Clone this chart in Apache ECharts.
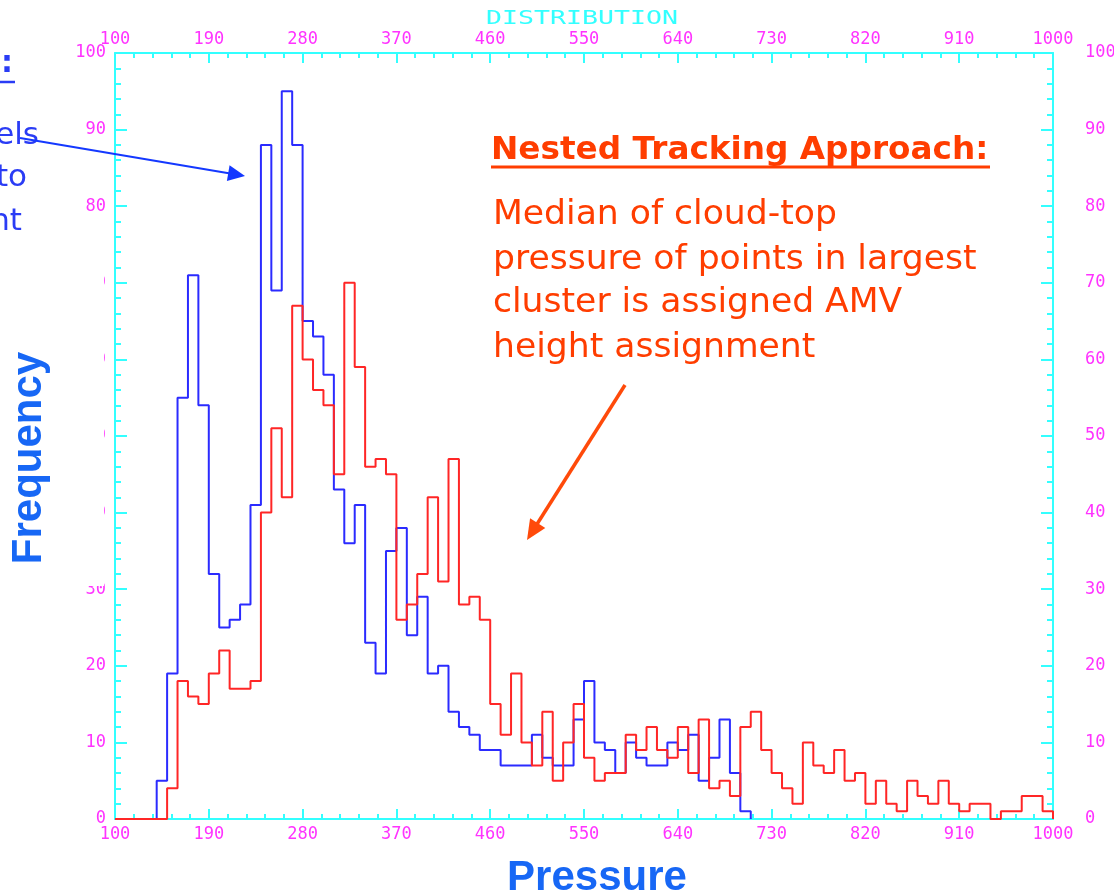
<!DOCTYPE html>
<html>
<head>
<meta charset="utf-8">
<script src="https://cdn.jsdelivr.net/npm/echarts@6/dist/echarts.min.js"></script>
<style>
html,body{margin:0;padding:0;background:#fff;}
#chart{width:1114px;height:895px;}
</style>
</head>
<body>
<div id="chart"></div>
<script>
// ---- data (histogram, 10-unit pressure bins starting at 100) ----
const binStart = 100;
const binWidth = 10;
const xTickLabels = [100, 190, 280, 370, 460, 550, 640, 730, 820, 910, 1000];
const yTickLabels = [0, 10, 20, 30, 40, 50, 60, 70, 80, 90, 100];

// blue histogram (one value per bin: 100-110, 110-120, ...)
const blueCounts = [
  0, 0, 0, 0, 5, 19, 55, 71, 54, 32,
  25, 26, 28, 41, 88, 69, 95, 88, 65, 63,
  58, 43, 36, 41, 23, 19, 35, 38, 24, 29,
  19, 20, 14, 12, 11, 9, 9, 7, 7, 7,
  11, 8, 7, 7, 13, 18, 10, 9, 6, 10,
  8, 7, 7, 10, 9, 11, 5, 8, 13, 6,
  1, 0, 0, 0, 0, 0, 0, 0, 0, 0,
  0, 0, 0, 0, 0, 0, 0, 0, 0, 0,
  0, 0, 0, 0, 0, 0, 0, 0, 0, 0
];
// red histogram
const redCounts = [
  0, 0, 0, 0, 0, 4, 18, 16, 15, 19,
  22, 17, 17, 18, 40, 51, 42, 67, 60, 56,
  54, 45, 70, 59, 46, 47, 45, 26, 28, 32,
  42, 31, 47, 28, 29, 26, 15, 11, 19, 10,
  7, 14, 5, 10, 15, 8, 5, 6, 6, 11,
  9, 12, 9, 8, 12, 6, 13, 4, 5, 3,
  12, 14, 9, 6, 4, 2, 10, 7, 6, 9,
  5, 6, 2, 5, 2, 1, 5, 3, 2, 5,
  2, 1, 2, 2, 0, 1, 1, 3, 3, 1
];

function toSteps(vals) {
  let last = vals.length - 1;
  while (last >= 0 && vals[last] === 0) last--;
  const pts = [];
  for (let k = 0; k <= last; k++) pts.push([binStart + k * binWidth, vals[k]]);
  pts.push([binStart + (last + 1) * binWidth, 0]);
  return pts;
}

const CYAN = '#3ff';
const MAG = '#f3f';
const labelFont = { color: MAG, fontFamily: 'DejaVu Sans Mono', fontSize: 17,
  formatter: function (v) { return String(v); } };

function xAxisCfg(pos, margin) {
  return {
    type: 'value', position: pos,
    min: xTickLabels[0], max: xTickLabels[xTickLabels.length - 1],
    interval: xTickLabels[1] - xTickLabels[0],
    axisLine: { show: true, onZero: false, lineStyle: { color: CYAN, width: 2 } },
    axisTick: { show: true, inside: true, length: 10, lineStyle: { color: CYAN, width: 2 } },
    minorTick: { show: true, splitNumber: 5, length: 5, lineStyle: { color: CYAN, width: 2 } },
    splitLine: { show: false },
    axisLabel: Object.assign({ margin: margin, showMinLabel: true, showMaxLabel: true, hideOverlap: false }, labelFont)
  };
}
function yAxisCfg(pos, margin, align) {
  return {
    type: 'value', position: pos,
    min: yTickLabels[0], max: yTickLabels[yTickLabels.length - 1],
    interval: yTickLabels[1] - yTickLabels[0],
    axisLine: { show: true, onZero: false, lineStyle: { color: CYAN, width: 2 } },
    axisTick: { show: true, inside: true, length: 12, lineStyle: { color: CYAN, width: 2 } },
    minorTick: { show: true, splitNumber: 5, length: 6, lineStyle: { color: CYAN, width: 2 } },
    splitLine: { show: false },
    axisLabel: Object.assign({ margin: margin, align: align, showMinLabel: true, showMaxLabel: true }, labelFont)
  };
}

function arrow(x1, y1, x2, y2, color, w, headLen, headHalf) {
  const dx = x2 - x1, dy = y2 - y1, L = Math.sqrt(dx * dx + dy * dy);
  const ux = dx / L, uy = dy / L, nx = -uy, ny = ux;
  const bx = x2 - ux * headLen, by = y2 - uy * headLen;
  return [
    { type: 'line', z: 120, shape: { x1: x1, y1: y1, x2: bx + ux * 2, y2: by + uy * 2 },
      style: { stroke: color, lineWidth: w } },
    { type: 'polygon', z: 120,
      shape: { points: [[x2, y2], [bx + nx * headHalf, by + ny * headHalf], [bx - nx * headHalf, by - ny * headHalf]] },
      style: { fill: color } }
  ];
}

const ORANGE = '#ff3d00';
const BLUE_TXT = '#2a3cf5';
const BLUE_LBL = '#1767f5';

const chart = echarts.init(document.getElementById('chart'), null, { renderer: 'canvas' });
chart.setOption({
  animation: false,
  backgroundColor: '#fff',
  grid: { left: 115, right: 61, top: 53, bottom: 76, containLabel: false, outerBoundsMode: 'none' },
  xAxis: [xAxisCfg('bottom', 7), xAxisCfg('top', 5)],
  yAxis: [yAxisCfg('left', 9, 'right'), yAxisCfg('right', 32, 'left')],
  series: [
    { type: 'line', step: 'end', xAxisIndex: 0, yAxisIndex: 0, showSymbol: false, z: 3,
      data: toSteps(blueCounts), lineStyle: { color: '#2b2bff', width: 2 } },
    { type: 'line', step: 'end', xAxisIndex: 0, yAxisIndex: 0, showSymbol: false, z: 4,
      data: toSteps(redCounts), lineStyle: { color: '#ff2626', width: 2 } }
  ],
  graphic: [
    { type: 'text', z: 100, x: 582, y: 19, scaleX: 1.4,
      style: { text: 'DISTRIBUTION', fill: CYAN, font: '19px "DejaVu Sans Mono"', align: 'center', verticalAlign: 'middle' } },
    { type: 'rect', z: 100, shape: { x: 0, y: 216, width: 104, height: 370 }, style: { fill: '#fff' } },
    { type: 'text', z: 110, x: 29, y: 458, rotation: Math.PI / 2,
      style: { text: 'Frequency', fill: BLUE_LBL, font: 'bold 42px "Liberation Sans"', align: 'center', verticalAlign: 'middle' } },
    { type: 'text', z: 110, x: 597, y: 878,
      style: { text: 'Pressure', fill: BLUE_LBL, font: 'bold 42px "Liberation Sans"', align: 'center', verticalAlign: 'middle' } },
    // left annotation fragments (cut off by the page edge)
    { type: 'text', z: 110, x: 13, y: 64,
      style: { text: ':', fill: BLUE_TXT, font: 'bold 30px "DejaVu Sans"', align: 'right', verticalAlign: 'middle' } },
    { type: 'line', z: 110, shape: { x1: 0, y1: 82, x2: 15, y2: 82 }, style: { stroke: BLUE_TXT, lineWidth: 2.5 } },
    { type: 'text', z: 110, x: 39, y: 136,
      style: { text: 'els', fill: BLUE_TXT, font: '31px "DejaVu Sans"', align: 'right', verticalAlign: 'middle' } },
    { type: 'text', z: 110, x: 27, y: 178,
      style: { text: 'to', fill: BLUE_TXT, font: '31px "DejaVu Sans"', align: 'right', verticalAlign: 'middle' } },
    { type: 'text', z: 110, x: 22, y: 222,
      style: { text: 'nt', fill: BLUE_TXT, font: '31px "DejaVu Sans"', align: 'right', verticalAlign: 'middle' } },
    // right annotation
    { type: 'text', z: 110, x: 491, y: 151,
      style: { text: 'Nested Tracking Approach:', fill: ORANGE, font: 'bold 32.7px "DejaVu Sans"', align: 'left', verticalAlign: 'middle' } },
    { type: 'line', z: 110, shape: { x1: 491, y1: 167, x2: 990, y2: 167 }, style: { stroke: ORANGE, lineWidth: 3 } },
    { type: 'text', z: 110, x: 493, y: 215,
      style: { text: 'Median of cloud-top', fill: ORANGE, font: '34.6px "DejaVu Sans"', align: 'left', verticalAlign: 'middle' } },
    { type: 'text', z: 110, x: 493, y: 260,
      style: { text: 'pressure of points in largest', fill: ORANGE, font: '34.6px "DejaVu Sans"', align: 'left', verticalAlign: 'middle' } },
    { type: 'text', z: 110, x: 493, y: 303,
      style: { text: 'cluster is assigned AMV', fill: ORANGE, font: '34.6px "DejaVu Sans"', align: 'left', verticalAlign: 'middle' } },
    { type: 'text', z: 110, x: 493, y: 348,
      style: { text: 'height assignment', fill: ORANGE, font: '34.6px "DejaVu Sans"', align: 'left', verticalAlign: 'middle' } }
  ]
    .concat(arrow(20, 138, 245, 176, '#1438ff', 2, 17, 8))
    .concat(arrow(625, 385, 527, 540, '#ff4a0a', 3.5, 20, 9))
});
</script>
</body>
</html>
